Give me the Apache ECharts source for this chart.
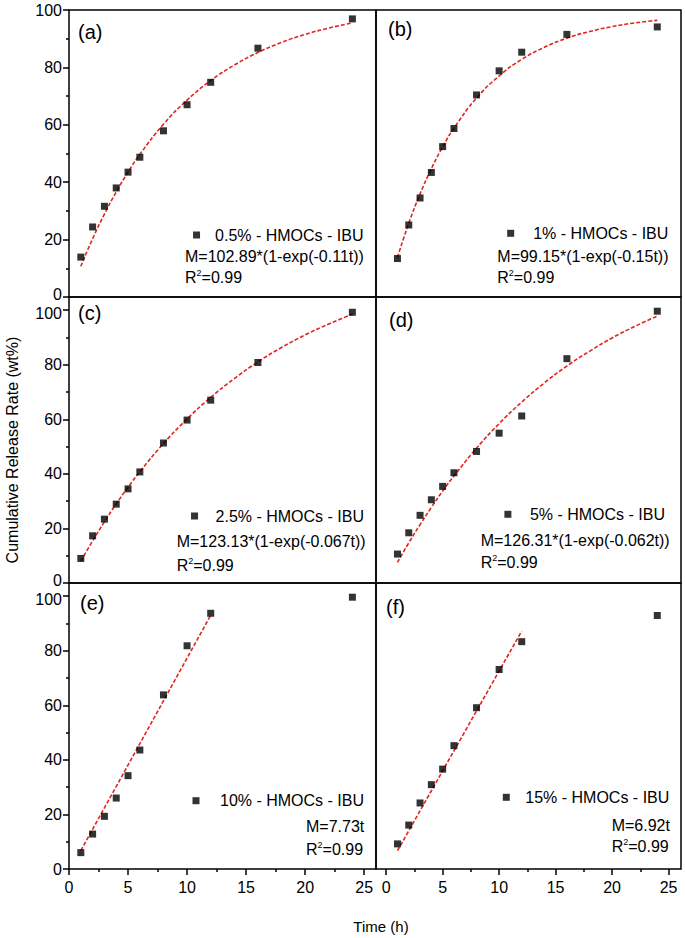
<!DOCTYPE html>
<html><head><meta charset="utf-8">
<script src="https://cdn.jsdelivr.net/npm/echarts@6/dist/echarts.min.js"></script>
<style>html,body{margin:0;padding:0;background:#fff}#c{width:685px;height:938px}</style>
</head><body><div id="c"></div>
<script>
// ---------- data ----------
const timePoints = [1, 2, 3, 4, 5, 6, 8, 10, 12, 16, 24];
const timeLinear = [1, 2, 3, 4, 5, 6, 8, 10, 12, 24];
const fitTimes = [1, 2, 3, 4, 5, 6, 8, 10, 12, 14, 16, 18, 20, 22, 24];
const lineTimes = [1, 12];

const releaseA = [13.9, 24.4, 31.6, 38.0, 43.5, 48.7, 57.9, 67.0, 74.8, 86.7, 96.9];
const fitA = [10.7, 20.3, 28.9, 36.6, 43.5, 49.7, 60.2, 68.6, 75.4, 80.8, 85.2, 88.7, 91.5, 93.7, 95.5];
const releaseB = [13.4, 25.1, 34.5, 43.4, 52.4, 58.7, 70.4, 78.8, 85.3, 91.5, 94.1];
const fitB = [13.8, 25.7, 35.9, 44.7, 52.3, 58.8, 69.3, 77.0, 82.8, 87.0, 90.2, 92.5, 94.2, 95.5, 96.4];
const releaseC = [9.0, 17.3, 23.4, 28.9, 34.5, 40.7, 51.3, 59.7, 67.0, 80.8, 99.2];
const fitC = [8.0, 15.4, 22.4, 29.0, 35.1, 40.8, 51.1, 60.1, 68.0, 74.9, 81.0, 86.3, 90.9, 94.9, 98.5];
const releaseD = [10.6, 18.4, 24.8, 30.5, 35.4, 40.4, 48.2, 54.9, 61.2, 82.2, 99.6];
const fitD = [7.6, 14.7, 21.4, 27.7, 33.7, 39.2, 49.4, 58.4, 66.3, 73.3, 79.5, 84.9, 89.8, 94.0, 97.8];
const releaseE = [6.0, 12.8, 19.3, 26.0, 34.2, 43.6, 63.8, 81.8, 93.7, 99.6];
const fitE = [6.7, 93.0];
const releaseF = [9.2, 16.1, 24.2, 30.9, 36.6, 45.2, 59.1, 73.1, 83.3, 92.9];
const fitF = [6.7, 87.2];

const panelLabels = ['(a)', '(b)', '(c)', '(d)', '(e)', '(f)'];
const legendNames = ['0.5% - HMOCs - IBU', '1% - HMOCs - IBU', '2.5% - HMOCs - IBU',
                     '5% - HMOCs - IBU', '10% - HMOCs - IBU', '15% - HMOCs - IBU'];
const equations = ['M=102.89*(1-exp(-0.11t))', 'M=99.15*(1-exp(-0.15t))',
                   'M=123.13*(1-exp(-0.067t))', 'M=126.31*(1-exp(-0.062t))',
                   'M=7.73t', 'M=6.92t'];
const rSquared = ['0.99', '0.99', '0.99', '0.99', '0.99', '0.99'];
const xTickValues = [0, 5, 10, 15, 20, 25];
const xMinorValues = [2.5, 7.5, 12.5, 17.5, 22.5];
const yTickValues = [0, 20, 40, 60, 80, 100];
const yMinorValues = [10, 30, 50, 70, 90];
const xTitle = 'Time (h)';
const yTitle = 'Cumulative Release Rate (wt%)';

// ---------- layout ----------
const FONT = 'Liberation Sans, Arial, sans-serif';
const RED = '#e3231e';
const colLeft = [69, 376], colWidth = [307, 305];
const rowTop = [10, 297, 583], rowHeight = [287, 286, 286];
const xRange = [[0, 26], [-0.9, 26.1]];
const yMax = [100, 104.8, 104.8];

const panels = [
  {pts: releaseA, pt: timePoints, fit: fitA, ft: fitTimes, smooth: true},
  {pts: releaseB, pt: timePoints, fit: fitB, ft: fitTimes, smooth: true},
  {pts: releaseC, pt: timePoints, fit: fitC, ft: fitTimes, smooth: true},
  {pts: releaseD, pt: timePoints, fit: fitD, ft: fitTimes, smooth: true},
  {pts: releaseE, pt: timeLinear, fit: fitE, ft: lineTimes, smooth: false},
  {pts: releaseF, pt: timeLinear, fit: fitF, ft: lineTimes, smooth: false}
];
const labelPos = [[78, 32], [388, 29], [78, 313], [389, 320], [80, 603], [386, 607]];
const legendPos = [
  [363.5, 235, 10], [668.3, 233.3, 14], [364, 516, 12.5],
  [665, 514.3, 13.5], [364, 800.7, 15.5], [669.3, 797.3, 10.5]];
const eqPos = [
  [185, 256.7, 277.7], [497.3, 256, 277.7], [176.7, 541.7, 565],
  [480.7, 540, 562.7], [306, 826.7, 849.3], [611.7, 825, 846]];

const grid = [], xAxis = [], yAxis = [], series = [], legend = [], graphic = [];
const tickStyle = {color: '#000', width: 1.5};
const labelRich = {
  lo: {fontSize: 16, fontFamily: FONT, color: '#000', padding: [0, 0, 6, 0]},
  hi: {fontSize: 16, fontFamily: FONT, color: '#000', padding: [6, 0, 0, 0]}
};

panels.forEach((p, i) => {
  const r = Math.floor(i / 2), c = i % 2;
  grid.push({left: colLeft[c], top: rowTop[r], width: colWidth[c], height: rowHeight[r],
             show: true, borderColor: '#000', borderWidth: 1.5, backgroundColor: 'transparent'});
  const bottom = r === 2, leftCol = c === 0;
  const xi = xAxis.length;
  xAxis.push({type: 'value', gridIndex: i, position: 'bottom', min: xRange[c][0], max: xRange[c][1],
    axisLine: {show: false}, splitLine: {show: false},
    axisTick: {show: bottom, customValues: xTickValues, length: 6, lineStyle: tickStyle},
    axisLabel: {show: bottom, customValues: xTickValues, margin: 10, fontSize: 16,
                color: '#000', fontFamily: FONT}});
  if (bottom) {
    xAxis.push({type: 'value', gridIndex: i, position: 'bottom', min: xRange[c][0], max: xRange[c][1],
      axisLine: {show: false}, splitLine: {show: false},
      axisTick: {show: true, customValues: xMinorValues, length: 3, lineStyle: tickStyle},
      axisLabel: {show: false}});
  }
  const yi = yAxis.length;
  yAxis.push({type: 'value', gridIndex: i, position: 'left', min: 0, max: yMax[r],
    axisLine: {show: false}, splitLine: {show: false},
    axisTick: {show: leftCol, customValues: yTickValues, length: 6, lineStyle: tickStyle},
    axisLabel: {show: leftCol, customValues: yTickValues, margin: 7, fontSize: 16,
                color: '#000', fontFamily: FONT, rich: labelRich,
                formatter: v => (v === 0 && r < 2) ? '{lo|0}' : (v === 100 && r > 0) ? '{hi|100}' : String(v)}});
  if (leftCol) {
    yAxis.push({type: 'value', gridIndex: i, position: 'left', min: 0, max: yMax[r],
      axisLine: {show: false}, splitLine: {show: false},
      axisTick: {show: true, customValues: yMinorValues, length: 3, lineStyle: tickStyle},
      axisLabel: {show: false}});
  }
  series.push({type: 'line', name: 'fit' + i, xAxisIndex: xi, yAxisIndex: yi,
    data: p.ft.map((t, k) => [t, p.fit[k]]), smooth: p.smooth, showSymbol: false,
    lineStyle: {color: RED, width: 1.6, type: [4, 2]}, silent: true, z: 2});
  series.push({type: 'scatter', name: legendNames[i], xAxisIndex: xi, yAxisIndex: yi,
    data: p.pt.map((t, k) => [t, p.pts[k]]), symbol: 'rect', symbolSize: 7,
    itemStyle: {color: '#000'}, z: 3});
  const lp = legendPos[i];
  legend.push({data: [legendNames[i]], right: 685 - lp[0], top: lp[1] - 9, padding: 0,
    icon: 'rect', itemWidth: 7, itemHeight: 7, selectedMode: false,
    textStyle: {fontSize: 16, fontFamily: FONT, color: '#000', lineHeight: 18,
                padding: [0, 0, 0, lp[2]]}});
  graphic.push({type: 'text', x: labelPos[i][0], y: labelPos[i][1],
    style: {text: panelLabels[i], fontSize: 20, fontFamily: FONT, fill: '#000',
            textAlign: 'left', textVerticalAlign: 'middle'}});
  const ep = eqPos[i];
  graphic.push({type: 'text', x: ep[0], y: ep[1],
    style: {text: equations[i], fontSize: 16, fontFamily: FONT, fill: '#000',
            textAlign: 'left', textVerticalAlign: 'middle'}});
  graphic.push({type: 'text', x: ep[0], y: ep[2],
    style: {text: 'R{sup|2}=' + rSquared[i], fontSize: 16, fontFamily: FONT, fill: '#000',
            textAlign: 'left', textVerticalAlign: 'middle', lineHeight: 18,
            rich: {sup: {fontSize: 9, fontFamily: FONT, fill: '#000', verticalAlign: 'top', lineHeight: 18}}}});
});

graphic.push({type: 'text', x: 12, y: 450, rotation: Math.PI / 2,
  style: {text: yTitle, fontSize: 16, fontFamily: FONT, fill: '#000',
          textAlign: 'center', textVerticalAlign: 'middle'}});
graphic.push({type: 'text', x: 381, y: 926,
  style: {text: xTitle, fontSize: 15, fontFamily: FONT, fill: '#000',
          textAlign: 'center', textVerticalAlign: 'middle'}});

const chart = echarts.init(document.getElementById('c'), null, {renderer: 'svg'});
chart.setOption({animation: false, backgroundColor: '#fff', grid, xAxis, yAxis, series, legend, graphic});
</script></body></html>
